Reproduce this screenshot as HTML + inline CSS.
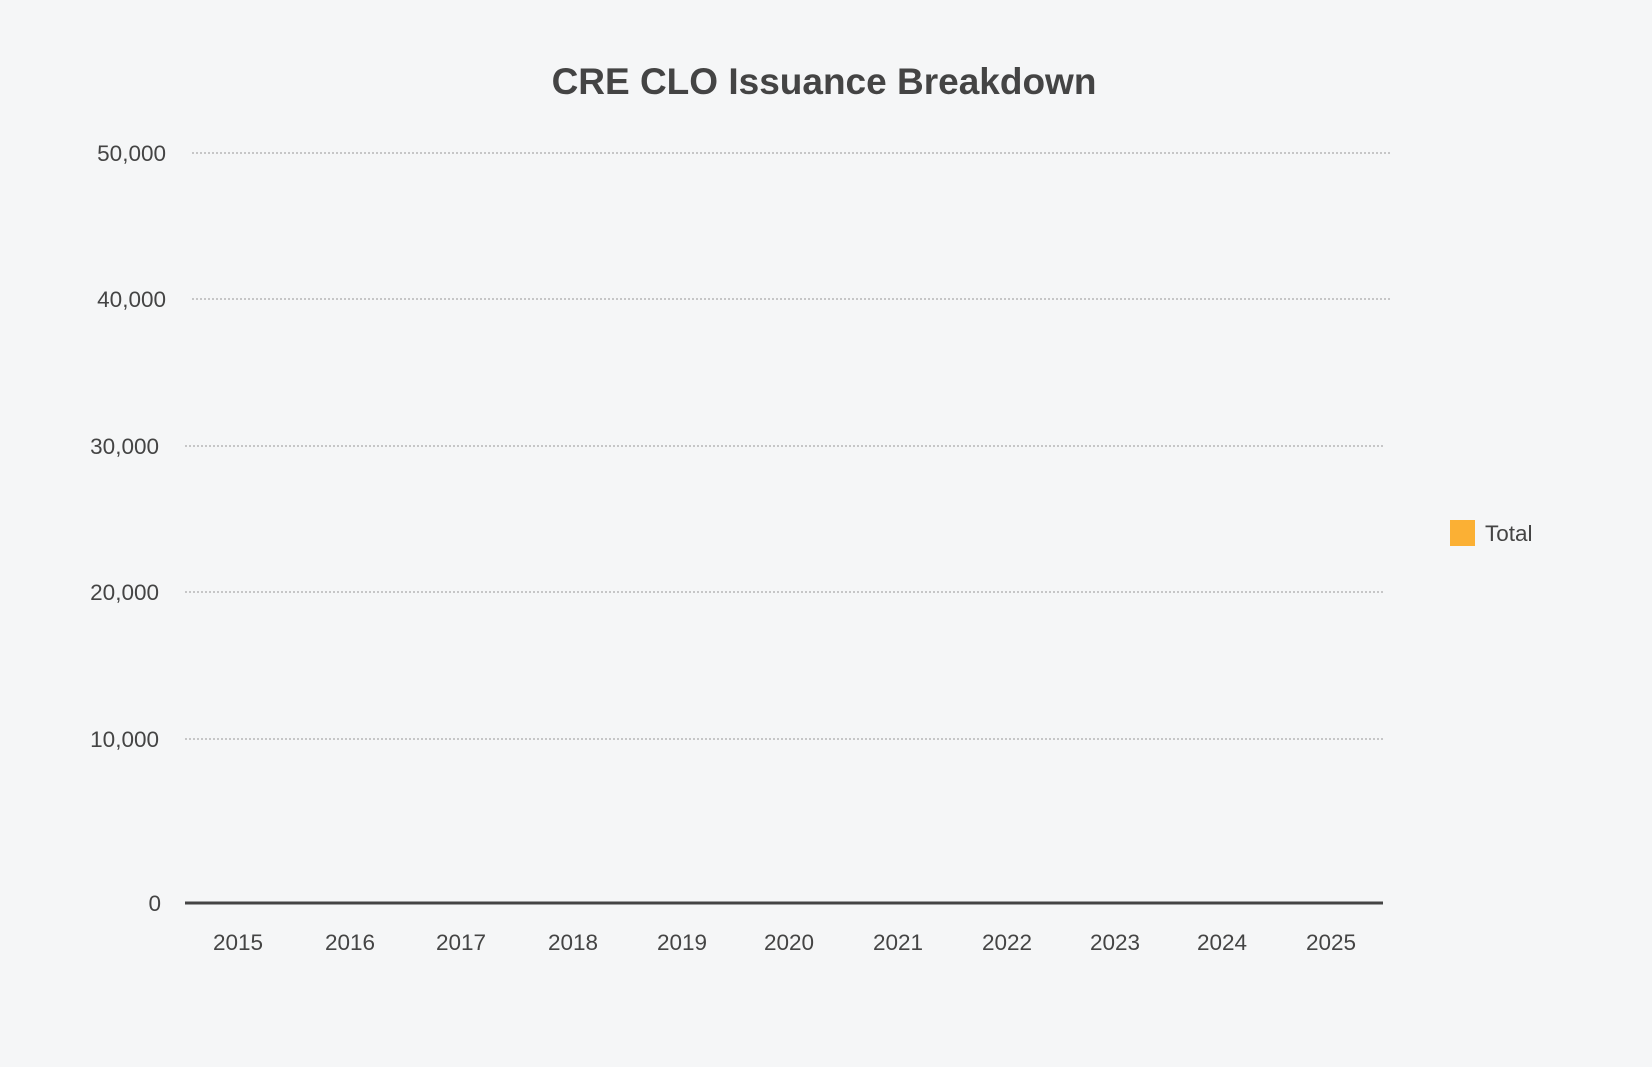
<!DOCTYPE html>
<html><head><meta charset="utf-8"><style>
html,body{margin:0;padding:0;background:#f5f6f7;}
body{width:1652px;height:1067px;overflow:hidden;position:relative;font-family:"Liberation Sans","DejaVu Sans",sans-serif;}
</style></head><body>
<svg width="1652" height="1067" xmlns="http://www.w3.org/2000/svg" style="position:absolute;left:0;top:0">
<rect width="1652" height="1067" fill="#f5f6f7"/>
<text x="824" y="94" text-anchor="middle" font-family="Liberation Sans, DejaVu Sans, sans-serif" font-weight="bold" font-size="37" fill="#444">CRE CLO Issuance Breakdown</text>
<g stroke="#aaa" stroke-width="1.2" stroke-dasharray="2,2">
<line x1="192" y1="153" x2="1391" y2="153"/>
<line x1="192" y1="299" x2="1391" y2="299"/>
<line x1="185" y1="446" x2="1383" y2="446"/>
<line x1="185" y1="592" x2="1383" y2="592"/>
<line x1="185" y1="739" x2="1383" y2="739"/>
</g>
<line x1="185" y1="903" x2="1383" y2="903" stroke="#444" stroke-width="3"/>
<g font-family="Liberation Sans, DejaVu Sans, sans-serif" font-size="22.5" fill="#444" text-anchor="end">
<text x="166" y="161">50,000</text>
<text x="166" y="307">40,000</text>
<text x="159" y="454">30,000</text>
<text x="159" y="600">20,000</text>
<text x="159" y="747">10,000</text>
<text x="161" y="911">0</text>
</g>
<g font-family="Liberation Sans, DejaVu Sans, sans-serif" font-size="22.5" fill="#444" text-anchor="middle">
<text x="238" y="950">2015</text>
<text x="350" y="950">2016</text>
<text x="461" y="950">2017</text>
<text x="573" y="950">2018</text>
<text x="682" y="950">2019</text>
<text x="789" y="950">2020</text>
<text x="898" y="950">2021</text>
<text x="1007" y="950">2022</text>
<text x="1115" y="950">2023</text>
<text x="1222" y="950">2024</text>
<text x="1331" y="950">2025</text>
</g>
<rect x="1450" y="520" width="25" height="26" fill="#fbb034"/>
<text x="1485" y="541" font-family="Liberation Sans, DejaVu Sans, sans-serif" font-size="22.5" fill="#444">Total</text>
</svg>
</body></html>
